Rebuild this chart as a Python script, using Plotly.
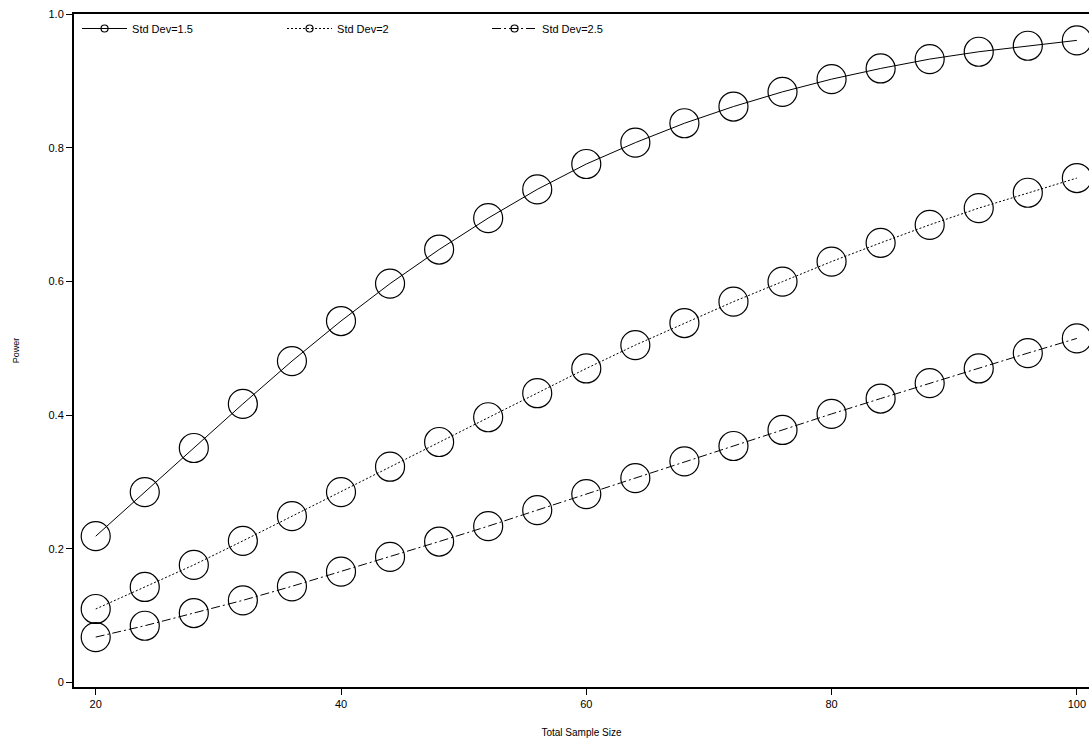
import plotly.graph_objects as go

sample_size = [20, 24, 28, 32, 36, 40, 44, 48, 52, 56, 60, 64, 68, 72, 76, 80, 84, 88, 92, 96, 100]

power_sd15 = [0.219, 0.285, 0.351, 0.417, 0.481, 0.541, 0.597, 0.648, 0.695, 0.738,
              0.776, 0.808, 0.837, 0.862, 0.884, 0.903, 0.919, 0.933, 0.944, 0.953, 0.961]
power_sd2 = [0.110, 0.143, 0.176, 0.212, 0.249, 0.285, 0.323, 0.360, 0.397, 0.433,
             0.470, 0.505, 0.538, 0.570, 0.600, 0.630, 0.658, 0.685, 0.710, 0.733, 0.755]
power_sd25 = [0.068, 0.085, 0.104, 0.123, 0.144, 0.166, 0.188, 0.211, 0.234, 0.258,
              0.282, 0.306, 0.331, 0.354, 0.378, 0.402, 0.425, 0.448, 0.470, 0.493, 0.515]

series_names = ["Std Dev=1.5", "Std Dev=2", "Std Dev=2.5"]
series_values = [power_sd15, power_sd2, power_sd25]
dashes = ["solid", "2px,2px", "9px,3px,2px,3px"]

y_ticks = [0, 0.2, 0.4, 0.6, 0.8, 1.0]
y_ticktext = ["0", "0.2", "0.4", "0.6", "0.8", "1.0"]
x_ticks = [20, 40, 60, 80, 100]

font = "Liberation Sans, Arial, sans-serif"

fig = go.Figure()
for name, vals, dash in zip(series_names, series_values, dashes):
    fig.add_trace(go.Scatter(
        x=sample_size, y=vals, mode="lines+markers", name=name, showlegend=False,
        line=dict(color="black", width=1, dash=dash),
        marker=dict(symbol="circle-open", size=29, color="black", line=dict(width=1.2, color="black")),
        cliponaxis=False,
    ))
for name, dash in zip(series_names, dashes):
    fig.add_trace(go.Scatter(
        x=[None], y=[None], mode="lines+markers", name=name, showlegend=True,
        line=dict(color="black", width=1, dash=dash),
        marker=dict(symbol="circle-open", size=7, color="black", line=dict(width=1.2, color="black")),
    ))

fig.update_layout(
    width=1089, height=738,
    margin=dict(l=74, r=0, t=14, b=51, autoexpand=False),
    paper_bgcolor="white", plot_bgcolor="white",
    font=dict(family=font, size=11, color="black"),
    showlegend=True,
    legend=dict(orientation="h", x=0.003, y=1.0, xanchor="left", yanchor="top",
                bgcolor="rgba(0,0,0,0)", font=dict(size=11), itemwidth=45,
                entrywidth=145, entrywidthmode="pixels", tracegroupgap=0),
    xaxis=dict(
        range=[18.23, 100.99], tickvals=x_ticks, showgrid=False, zeroline=False,
        showline=True, linecolor="black", linewidth=2, mirror=True, automargin=False,
        ticks="outside", ticklen=6, tickcolor="black", tickwidth=1,
        tickfont=dict(size=11),
        title=dict(text="Total Sample Size", font=dict(size=10), standoff=20),
    ),
    yaxis=dict(
        range=[-0.0067, 1.0005], tickvals=y_ticks, ticktext=y_ticktext, showgrid=False,
        zeroline=False, showline=True, linecolor="black", linewidth=2, automargin=False,
        ticks="outside", ticklen=6, tickcolor="black", tickwidth=1,
        tickfont=dict(size=11),
        title=dict(text="Power", font=dict(size=9), standoff=27),
    ),
)

fig.write_html(
    "out.html",
    config={"displayModeBar": False},
    post_script="document.body.style.margin='0px';document.body.style.overflow='hidden';",
)
